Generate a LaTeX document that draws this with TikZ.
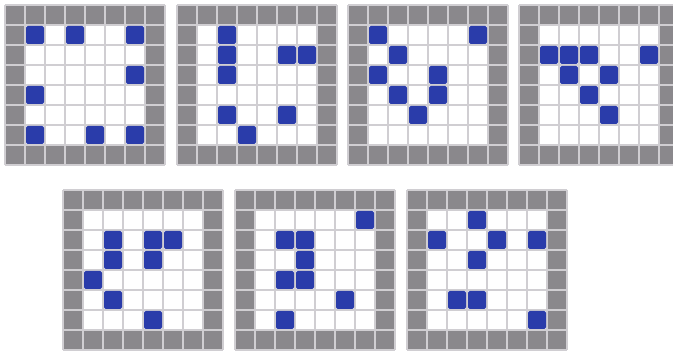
\documentclass[tikz,border=0pt]{standalone}
\usetikzlibrary{positioning}
\definecolor{boardGray}{RGB}{138,136,140}
\definecolor{boardLine}{RGB}{208,206,210}
\definecolor{boardBlue}{RGB}{42,60,170}

% one 8x8 board: top-left coordinate, list of blue cells (col/row)
\newcommand{\board}[2]{%
  \begin{scope}[shift={(#1)}]
    \fill[boardGray] (0,0) rectangle (160,160);
    \fill[white] (20,20) rectangle (140,140);
    \foreach \k in {0,...,8} {
      \draw[gridline] (\k*20,0) -- (\k*20,160);
      \draw[gridline] (0,\k*20) -- (160,\k*20);
    }
    \foreach \c/\r in {#2}
      \fill[bluecell] (\c*20+1,\r*20+1) rectangle ++(18,18);
  \end{scope}}

\begin{document}
\begin{tikzpicture}[
  x=1pt, y=-1pt,
  gridline/.style={draw=boardLine, line width=1.8pt},
  bluecell/.style={fill=boardBlue, rounded corners=2pt}
]
\useasboundingbox (0,0) rectangle (673,352);

\coordinate (b1) at (5,5);
\coordinate (b2) at (177,5);
\coordinate (b3) at (348,5);
\coordinate (b4) at (519,5);
\coordinate (b5) at (63,190);
\coordinate (b6) at (235,190);
\coordinate (b7) at (407,190);

\board{b1}{1/1,3/1,6/1,6/3,1/4,1/6,4/6,6/6}
\board{b2}{2/1,2/2,5/2,6/2,2/3,2/5,5/5,3/6}
\board{b3}{1/1,6/1,2/2,1/3,4/3,2/4,4/4,3/5}
\board{b4}{1/2,2/2,3/2,6/2,2/3,4/3,3/4,4/5}
\board{b5}{2/2,4/2,5/2,2/3,4/3,1/4,2/5,4/6}
\board{b6}{6/1,2/2,3/2,3/3,2/4,3/4,5/5,2/6}
\board{b7}{3/1,1/2,4/2,6/2,3/3,2/5,3/5,6/6}

\end{tikzpicture}
\end{document}
